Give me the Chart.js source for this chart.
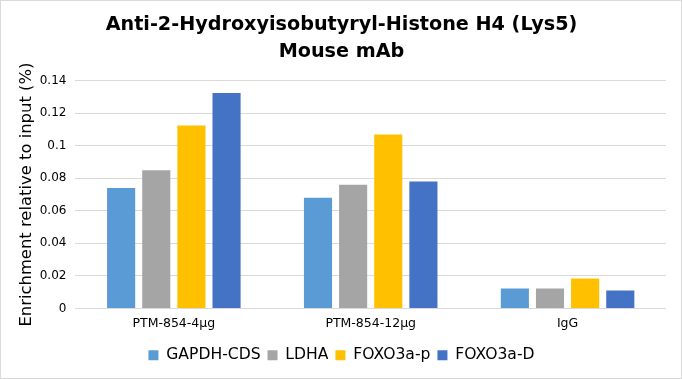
<!DOCTYPE html>
<html>
<head>
<meta charset="utf-8">
<script src="https://cdn.jsdelivr.net/npm/chart.js@4"></script>
<style>
html,body{margin:0;padding:0;background:#fff;}
#wrap{position:absolute;left:0;top:0;width:680px;height:377px;border:1px solid #d9d9d9;}
canvas{display:block;}
</style>
</head>
<body>
<div id="wrap"><canvas id="c" width="680" height="377"></canvas></div>
<script>
const categories = ["PTM-854-4\u00b5g", "PTM-854-12\u00b5g", "IgG"];
const seriesNames = ["GAPDH-CDS", "LDHA", "FOXO3a-p", "FOXO3a-D"];
const gapdh = [0.074, 0.068, 0.0123];
const ldha = [0.085, 0.076, 0.0123];
const foxo3aP = [0.1125, 0.107, 0.0184];
const foxo3aD = [0.1325, 0.078, 0.011];
const colors = ["#5b9bd5", "#a5a5a5", "#ffc000", "#4472c4"];
const yTicks = [0, 0.02, 0.04, 0.06, 0.08, 0.1, 0.12, 0.14];

const FONT = "'DejaVu Sans', Verdana, sans-serif";
const values = [gapdh, ldha, foxo3aP, foxo3aD];

new Chart(document.getElementById('c'), {
  type: 'bar',
  data: {
    labels: categories,
    datasets: seriesNames.map((n, i) => ({
      label: n,
      data: values[i],
      backgroundColor: colors[i],
      borderWidth: 0,
      categoryPercentage: 0.714,
      barPercentage: 0.8
    }))
  },
  options: {
    responsive: false,
    animation: false,
    devicePixelRatio: 1,
    layout: { padding: { left: 16, right: 15, top: 7, bottom: 5 } },
    plugins: {
      title: {
        display: true,
        text: ["Anti-2-Hydroxyisobutyryl-Histone H4 (Lys5)", "Mouse mAb"],
        color: '#000',
        font: { family: FONT, size: 19.2, weight: 'bold', lineHeight: 1.4 },
        padding: { top: 4, bottom: 15 }
      },
      legend: {
        position: 'bottom',
        labels: {
          color: '#000',
          font: { family: FONT, size: 15.6 },
          boxWidth: 10,
          boxHeight: 10,
          padding: 7
        }
      },
      tooltip: { enabled: false }
    },
    scales: {
      x: {
        grid: { display: false },
        border: { display: false },
        ticks: { color: '#000', font: { family: FONT, size: 12.5 }, padding: 0 },
        afterFit: (axis) => { axis.height += 9; }
      },
      y: {
        min: 0,
        max: 0.14,
        afterBuildTicks: (axis) => { axis.ticks = yTicks.map(v => ({ value: v })); },
        grid: { color: '#d9d9d9', lineWidth: 1, drawTicks: false },
        border: { display: false },
        ticks: {
          color: '#000',
          font: { family: FONT, size: 12 },
          padding: 9,
          callback: (v) => String(Number(v.toFixed(2)))
        },
        title: {
          display: true,
          text: "Enrichment relative to input (%)",
          color: '#000',
          font: { family: FONT, size: 16.4 },
          padding: { top: 0, bottom: -6 }
        }
      }
    }
  }
});
</script>
</body>
</html>
